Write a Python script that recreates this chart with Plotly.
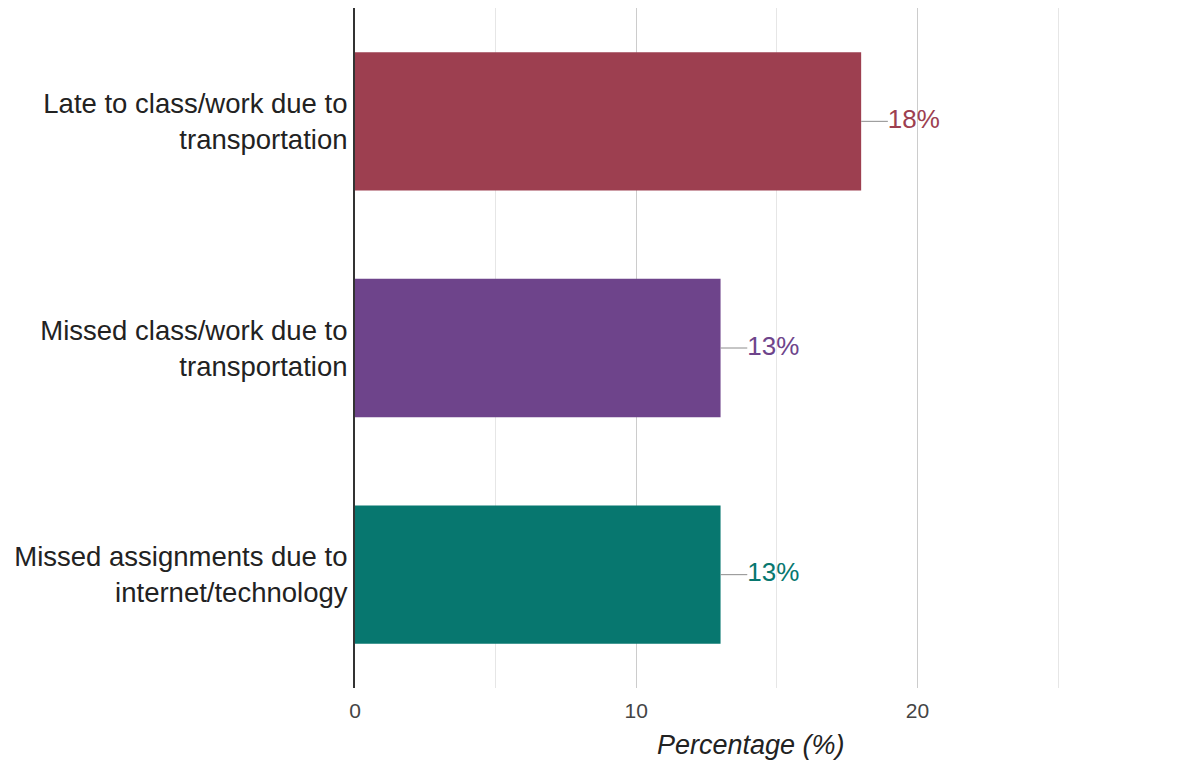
import plotly.graph_objects as go

categories = [
    "Late to class/work due to<br>transportation",
    "Missed class/work due to<br>transportation",
    "Missed assignments due to<br>internet/technology",
]
values = [18, 13, 13]
value_labels = ["18%", "13%", "13%"]
bar_colors = ["#9D3F50", "#6E448B", "#07776F"]
x_tickvals = [0, 10, 20]
x_ticktext = ["0", "10", "20"]

FONT = "Arial, Liberation Sans, sans-serif"
LEADER = 0.95

fig = go.Figure()

fig.add_trace(
    go.Bar(
        x=values,
        y=categories,
        orientation="h",
        marker=dict(color=bar_colors, line=dict(width=0)),
        width=0.61,
        hoverinfo="skip",
    )
)

# leader lines + value labels
for cat, val, lab, col in zip(categories, values, value_labels, bar_colors):
    fig.add_trace(
        go.Scatter(
            x=[val, val + LEADER],
            y=[cat, cat],
            mode="lines",
            line=dict(color="#8c8c8c", width=1),
            hoverinfo="skip",
        )
    )
    fig.add_trace(
        go.Scatter(
            x=[val + LEADER],
            y=[cat],
            mode="text",
            text=[lab],
            textposition="middle right",
            textfont=dict(size=26, color=col, family=FONT),
            hoverinfo="skip",
        )
    )

# page body has an 8px margin, so the figure is a bit smaller than the window
fig.update_layout(
    width=1194,
    height=756,
    margin=dict(l=347, r=2, t=0, b=76),
    paper_bgcolor="white",
    plot_bgcolor="white",
    showlegend=False,
    font=dict(family=FONT, color="#222222"),
    xaxis=dict(
        range=[0, 30.05],
        tickvals=x_tickvals,
        ticktext=x_ticktext,
        tickfont=dict(size=21, color="#444444"),
        ticks="outside",
        ticklen=4,
        tickcolor="white",
        showgrid=True,
        gridcolor="#cccccc",
        gridwidth=1,
        zeroline=False,
        showline=False,
        automargin=False,
        minor=dict(dtick=5, showgrid=True, gridcolor="#e6e6e6", gridwidth=1),
    ),
    yaxis=dict(
        autorange="reversed",
        tickfont=dict(size=27.5, color="#222222"),
        ticks="",
        showline=True,
        linecolor="#333333",
        linewidth=2,
        showgrid=False,
        automargin=False,
    ),
    annotations=[
        dict(
            text="<i>Percentage (%)</i>",
            xref="paper",
            yref="paper",
            x=0.469,
            y=-0.084,
            xanchor="center",
            yanchor="middle",
            showarrow=False,
            font=dict(size=27, color="#222222", family=FONT),
        )
    ],
)

fig.write_html("out.html")
